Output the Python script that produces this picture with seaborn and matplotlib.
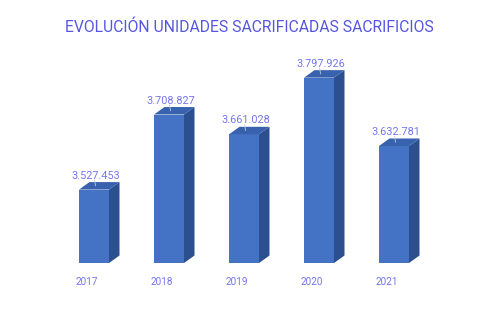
import matplotlib
matplotlib.use("Agg")
import matplotlib.pyplot as plt
import matplotlib.transforms as mtransforms
from matplotlib.patches import Polygon
import seaborn as sns
import pandas as pd

years = ["2017", "2018", "2019", "2020", "2021"]
values = [3527453, 3708827, 3661028, 3797926, 3632781]
value_labels = ["3.527.453", "3.708.827", "3.661.028", "3.797.926", "3.632.781"]
title = "EVOLUCIÓN UNIDADES SACRIFICADAS SACRIFICIOS"

FRONT = "#4472c4"
TOP = "#3862ad"
SIDE = "#2c4f8f"
TITLE_C = "#5656e0"
TEXT_C = "#7575ec"

sns.set_style("white")
plt.rcParams["font.family"] = ["Roboto", "DejaVu Sans"]

fig = plt.figure(figsize=(5, 3.3), dpi=100)
ax = fig.add_axes([0.113, 0.203, 0.75, 0.627])
df = pd.DataFrame({"year": years, "value": values})
sns.barplot(data=df, x="year", y="value", color=FRONT, width=0.4,
            saturation=1, ax=ax, linewidth=0)
ylo, yhi = 3350000, 3850000
ax.set_ylim(ylo, yhi)
ax.set_xlim(-0.5, 4.5)
for s in ax.spines.values():
    s.set_visible(False)
ax.set_yticks([])
ax.set_xlabel("")
ax.set_ylabel("")
ax.tick_params(axis="x", length=0, pad=10, labelsize=7.2, labelcolor=TEXT_C)
shift = mtransforms.ScaledTranslation(-7 / 100, 0, fig.dpi_scale_trans)
for lab in ax.get_xticklabels():
    lab.set_transform(lab.get_transform() + shift)

# depth offsets in pixels converted to data units
DX_PX, DY_PX = 10.5, 7.5
p0 = ax.transData.transform((0, ylo))
p1 = ax.transData.inverted().transform((p0[0] + DX_PX, p0[1] + DY_PX))
ddx, ddy = p1[0] - 0, p1[1] - ylo

for patch, lbl in zip(ax.patches, value_labels):
    x0 = patch.get_x()
    w = patch.get_width()
    x1 = x0 + w
    top = patch.get_y() + patch.get_height()
    side = Polygon([(x1, ylo), (x1, top), (x1 + ddx, top + ddy), (x1 + ddx, ylo + ddy)],
                   closed=True, facecolor=SIDE, edgecolor="none", clip_on=False)
    topf = Polygon([(x0, top), (x0 + ddx, top + ddy), (x1 + ddx, top + ddy), (x1, top)],
                   closed=True, facecolor=TOP, edgecolor="none", clip_on=False)
    ax.add_patch(side)
    ax.add_patch(topf)
    cx = x0 + w / 2
    ax.plot([cx + ddx * 0.15, cx + ddx * 0.05], [top + ddy * 0.5, top + ddy * 0.5 + 0.8 * ddy],
            color="#c8c8d8", lw=0.6, clip_on=False)
    ax.annotate(lbl, (cx, top), xytext=(1, 10), textcoords="offset points",
                ha="center", va="center", fontsize=7.8, color=TEXT_C)

fig.text(0.498, 0.918, title, ha="center", va="center", fontsize=11.3,
         color=TITLE_C, fontweight="normal")

fig.savefig("out.png", dpi=100, facecolor="white")
